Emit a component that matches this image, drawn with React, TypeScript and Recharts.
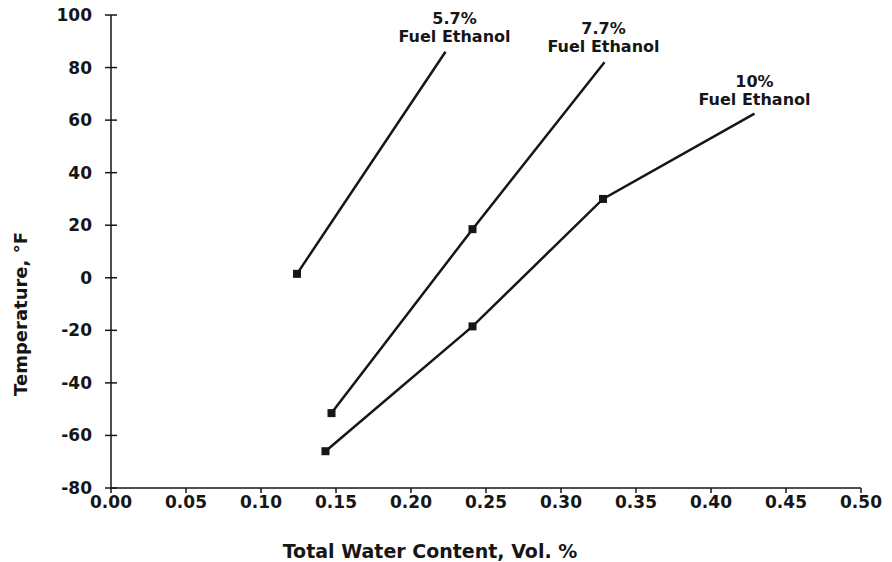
import React from 'react';
import { LineChart, Line, XAxis, YAxis, Label } from 'recharts';

// Phase-separation temperature vs. total water content for ethanol blends
const waterPct57 = [0.124, 0.223];
const tempF57 = [1.5, 86];

const waterPct77 = [0.147, 0.241, 0.329];
const tempF77 = [-51.5, 18.5, 82];

const waterPct10 = [0.143, 0.241, 0.328, 0.429];
const tempF10 = [-66, -18.5, 30, 62.5];

const seriesNames = ['5.7%', '7.7%', '10%'];
const seriesSubtitle = 'Fuel Ethanol';

const xTicks = [0, 0.05, 0.1, 0.15, 0.2, 0.25, 0.3, 0.35, 0.4, 0.45, 0.5];
const yTicks = [-80, -60, -40, -20, 0, 20, 40, 60, 80, 100];

const xTitle = 'Total Water Content, Vol. %';
const yTitle = 'Temperature, °F';

const toRows = (xs: number[], ys: number[]) => xs.map((x, i) => ({ x, t: ys[i] }));

const data57 = toRows(waterPct57, tempF57);
const data77 = toRows(waterPct77, tempF77);
const data10 = toRows(waterPct10, tempF10);

const INK = '#161616';
const FONT = '"DejaVu Sans", Arial, sans-serif';

const Y_TICK_SIZE = 6;
const Y_TICK_MARGIN = 13;

function YTick(props: any) {
  const { x, y, payload } = props;
  const axisX = x + Y_TICK_SIZE + Y_TICK_MARGIN;
  return (
    <g>
      <line x1={axisX - 6} x2={axisX + 6} y1={y} y2={y} stroke={INK} strokeWidth={1.5} />
      <text
        x={x}
        y={y}
        textAnchor="end"
        dominantBaseline="central"
        fontFamily={FONT}
        fontWeight="bold"
        fontSize={17}
        fill={INK}
      >
        {payload.value}
      </text>
    </g>
  );
}

function XTick(props: any) {
  const { x, y, payload } = props;
  return (
    <text
      x={x}
      y={y + 13}
      textAnchor="middle"
      fontFamily={FONT}
      fontWeight="bold"
      fontSize={17}
      fill={INK}
    >
      {Number(payload.value).toFixed(2)}
    </text>
  );
}

// Small filled square on every measured point except the open top end of each curve
function makeSquareDot(lastIndex: number) {
  return (props: any) => {
    const { cx, cy, index } = props;
    if (index === lastIndex) return <g key={`d-${index}`} />;
    return <rect key={`d-${index}`} x={cx - 4} y={cy - 4} width={8} height={8} fill={INK} />;
  };
}

// Two-line blend label drawn above the open end of each curve
function makeEndLabel(name: string, lastIndex: number, dx: number, dyTop: number, gap: number) {
  return (props: any) => {
    const { x, y, index } = props;
    if (index !== lastIndex) return <g key={`l-${index}`} />;
    return (
      <g key={`l-${index}`} fontFamily={FONT} fontWeight="bold" fontSize={16} fill={INK}>
        <text x={x + dx} y={y + dyTop} textAnchor="middle">{name}</text>
        <text x={x + dx} y={y + dyTop + gap} textAnchor="middle">{seriesSubtitle}</text>
      </g>
    );
  };
}

export default function App() {
  return (
    <div style={{ background: '#fff', width: 892, height: 562, margin: '-8px 0 0 -8px' }}>
      <LineChart
        width={892}
        height={562}
        margin={{ top: 15, right: 31, left: 31, bottom: 44 }}
      >
        <XAxis
          type="number"
          dataKey="x"
          domain={[0, 0.5]}
          ticks={xTicks}
          interval={0}
          stroke={INK}
          strokeWidth={1.5}
          tickSize={5}
          tick={<XTick />}
          height={30}
          allowDataOverflow
        >
          <Label
            content={(p: any) => {
              const vb = p.viewBox;
              return (
                <text
                  x={vb.x + vb.width / 2 - 56}
                  y={558}
                  textAnchor="middle"
                  fontFamily={FONT}
                  fontWeight="bold"
                  fontSize={19}
                  fill={INK}
                >
                  {xTitle}
                </text>
              );
            }}
          />
        </XAxis>
        <YAxis
          type="number"
          dataKey="t"
          domain={[-80, 100]}
          ticks={yTicks}
          interval={0}
          stroke={INK}
          strokeWidth={1.5}
          tickLine={false}
          tickSize={Y_TICK_SIZE}
          tickMargin={Y_TICK_MARGIN}
          tick={<YTick />}
          width={80}
          allowDataOverflow
        >
          <Label
            content={() => (
              <text
                x={27}
                y={314}
                transform="rotate(-90 27 314)"
                textAnchor="middle"
                fontFamily={FONT}
                fontWeight="bold"
                fontSize={18}
                fill={INK}
              >
                {yTitle}
              </text>
            )}
          />
        </YAxis>
        <Line
          data={data57}
          dataKey="t"
          stroke={INK}
          strokeWidth={2.5}
          isAnimationActive={false}
          dot={makeSquareDot(data57.length - 1)}
          activeDot={false}
          label={makeEndLabel(seriesNames[0], data57.length - 1, 9, -28, 18)}
        />
        <Line
          data={data77}
          dataKey="t"
          stroke={INK}
          strokeWidth={2.5}
          isAnimationActive={false}
          dot={makeSquareDot(data77.length - 1)}
          activeDot={false}
          label={makeEndLabel(seriesNames[1], data77.length - 1, -1, -28, 18)}
        />
        <Line
          data={data10}
          dataKey="t"
          stroke={INK}
          strokeWidth={2.5}
          isAnimationActive={false}
          dot={makeSquareDot(data10.length - 1)}
          activeDot={false}
          label={makeEndLabel(seriesNames[2], data10.length - 1, 0, -27, 18)}
        />
      </LineChart>
    </div>
  );
}
